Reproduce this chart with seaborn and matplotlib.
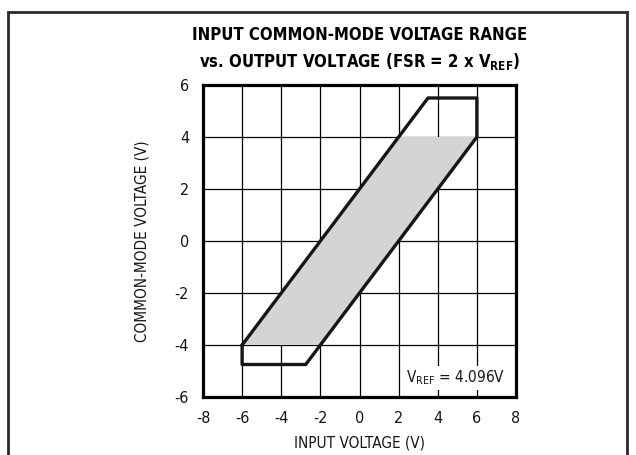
import matplotlib
matplotlib.use("Agg")
import matplotlib.pyplot as plt
from matplotlib.patches import Rectangle
import seaborn as sns
import pandas as pd

# Outer operating boundary (input voltage, common-mode voltage)
outline_x = [-6, -6, -2.75, 6, 6, 3.5, -6]
outline_y = [-4, -4.75, -4.75, 4, 5.5, 5.5, -4]
# Shaded region of guaranteed operation
fill_x = [-6, 2, 6, -2]
fill_y = [-4, 4, 4, -4]

x_ticks = [-8, -6, -4, -2, 0, 2, 4, 6, 8]
y_ticks = [-6, -4, -2, 0, 2, 4, 6]

sns.set_theme(style="white")
plt.rcParams["font.family"] = ["DejaVu Sans"]
plt.rcParams["font.stretch"] = "condensed"
plt.rcParams["mathtext.default"] = "regular"
plt.rcParams["axes.unicode_minus"] = False

INK = "#151515"

fig = plt.figure(figsize=(6.36, 4.55), dpi=100)
fig.patch.set_facecolor("white")

# page border
fig.add_artist(Rectangle((8/636, -0.05), 619/636, 1 - 12/455 + 0.05,
                         transform=fig.transFigure, fill=False,
                         edgecolor="#2a2a2a", lw=2.0))

ax = fig.add_axes([203/636, 1 - 397/455, 313/636, 312/455])
ax.set_xlim(-8, 8)
ax.set_ylim(-6, 6)
ax.set_xticks(x_ticks)
ax.set_yticks(y_ticks)
ax.grid(True, color="black", lw=0.9)
ax.set_axisbelow(True)
for s in ax.spines.values():
    s.set_linewidth(2.3)
    s.set_color("black")
ax.tick_params(axis="x", length=0, labelsize=11.5, pad=10, colors=INK)
ax.tick_params(axis="y", length=0, labelsize=11.5, pad=10, colors=INK)

ax.fill(fill_x, fill_y, color="#d3d4d6", lw=0, zorder=2)
df = pd.DataFrame({"x": outline_x, "y": outline_y})
sns.lineplot(data=df, x="x", y="y", sort=False, estimator=None,
             color="#161616", lw=2.4, ax=ax, zorder=3)

ax.set_xlabel("INPUT VOLTAGE (V)", fontsize=11, color=INK, labelpad=7)
ax.set_ylabel("COMMON-MODE VOLTAGE (V)", fontsize=11, color=INK, labelpad=18)

ax.text(7.45, -5.27, "V$_{REF}$ = 4.096V", ha="right", va="center",
        fontsize=11, color=INK, zorder=4,
        bbox=dict(boxstyle="square,pad=0.2", fc="white", ec="none"))

fig.text(359.5/636, 1 - 35/455, "INPUT COMMON-MODE VOLTAGE RANGE",
         ha="center", va="center", fontsize=12, fontweight="bold", color="black")
fig.text(359.5/636, 1 - 62/455, "vs. OUTPUT VOLTAGE (FSR = 2 x V$_{REF}$)",
         ha="center", va="center", fontsize=12, fontweight="bold", color="black")

fig.savefig("out.png", dpi=100)
